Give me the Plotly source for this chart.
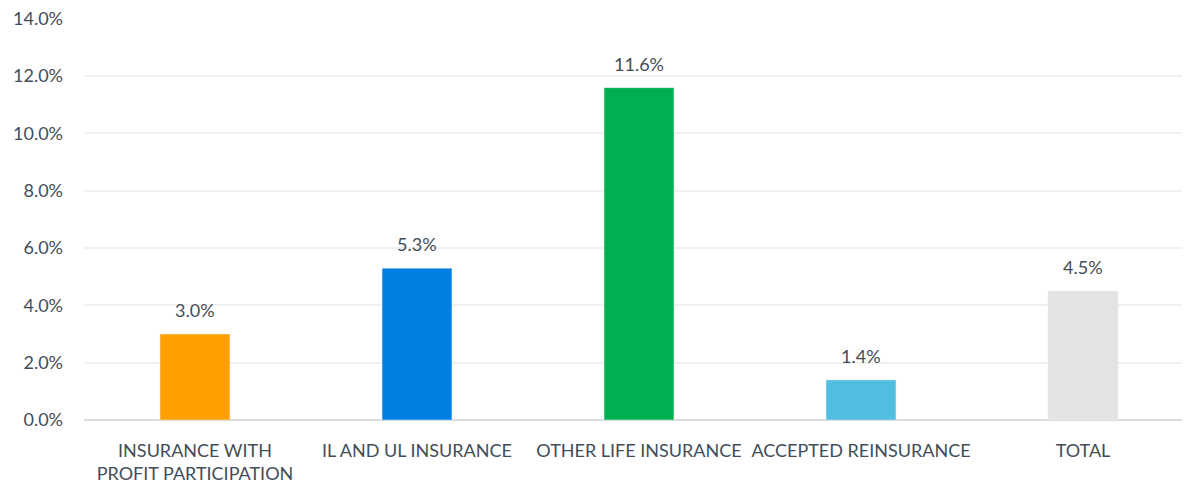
import plotly.graph_objects as go

# categories and growth rates (%)
categories = ['INSURANCE WITH<br>PROFIT PARTICIPATION', 'IL AND UL INSURANCE',
              'OTHER LIFE INSURANCE', 'ACCEPTED REINSURANCE', 'TOTAL']
values = [3.0, 5.3, 11.6, 1.4, 4.5]
colors = ['#FFA000', '#0080E2', '#00B050', '#4FBEE0', '#E3E3E3']
ytick_vals = [0, 2, 4, 6, 8, 10, 12, 14]
ytick_text = [f'{v:.1f}%' for v in ytick_vals]

txt = '#434D58'
font = 'Lato, "Open Sans", sans-serif'

fig = go.Figure(go.Bar(
    x=categories, y=values, marker_color=colors, width=0.315,
    showlegend=False, hoverinfo='skip'))

# value labels above bars
for c, v in zip(categories, values):
    fig.add_annotation(x=c, y=v, text=f'{v:.1f}%', showarrow=False,
                       yanchor='bottom', yshift=11,
                       font=dict(size=18, color=txt, family=font))

# page body has an 8px margin, so margins are offset by that
fig.update_layout(
    width=1190, height=487,
    margin=dict(l=76, r=8, t=10, b=75),
    plot_bgcolor='white', paper_bgcolor='white',
    font=dict(family=font, size=18, color=txt),
    xaxis=dict(range=[-0.5, 4.482], showgrid=False, showline=False,
               tickfont=dict(size=18, color=txt), ticks='', ticklabelstandoff=18,
               automargin=False),
    yaxis=dict(range=[0, 14.03], tickvals=ytick_vals, ticktext=ytick_text,
               showgrid=True, gridcolor='#F0F0F0', gridwidth=1.5,
               zeroline=True, zerolinecolor='#D9DCE0', zerolinewidth=1.5,
               tickfont=dict(size=18, color=txt), ticklabelstandoff=20,
               ticklabeloverflow='allow', automargin=False),
)

fig.write_html('out.html')
